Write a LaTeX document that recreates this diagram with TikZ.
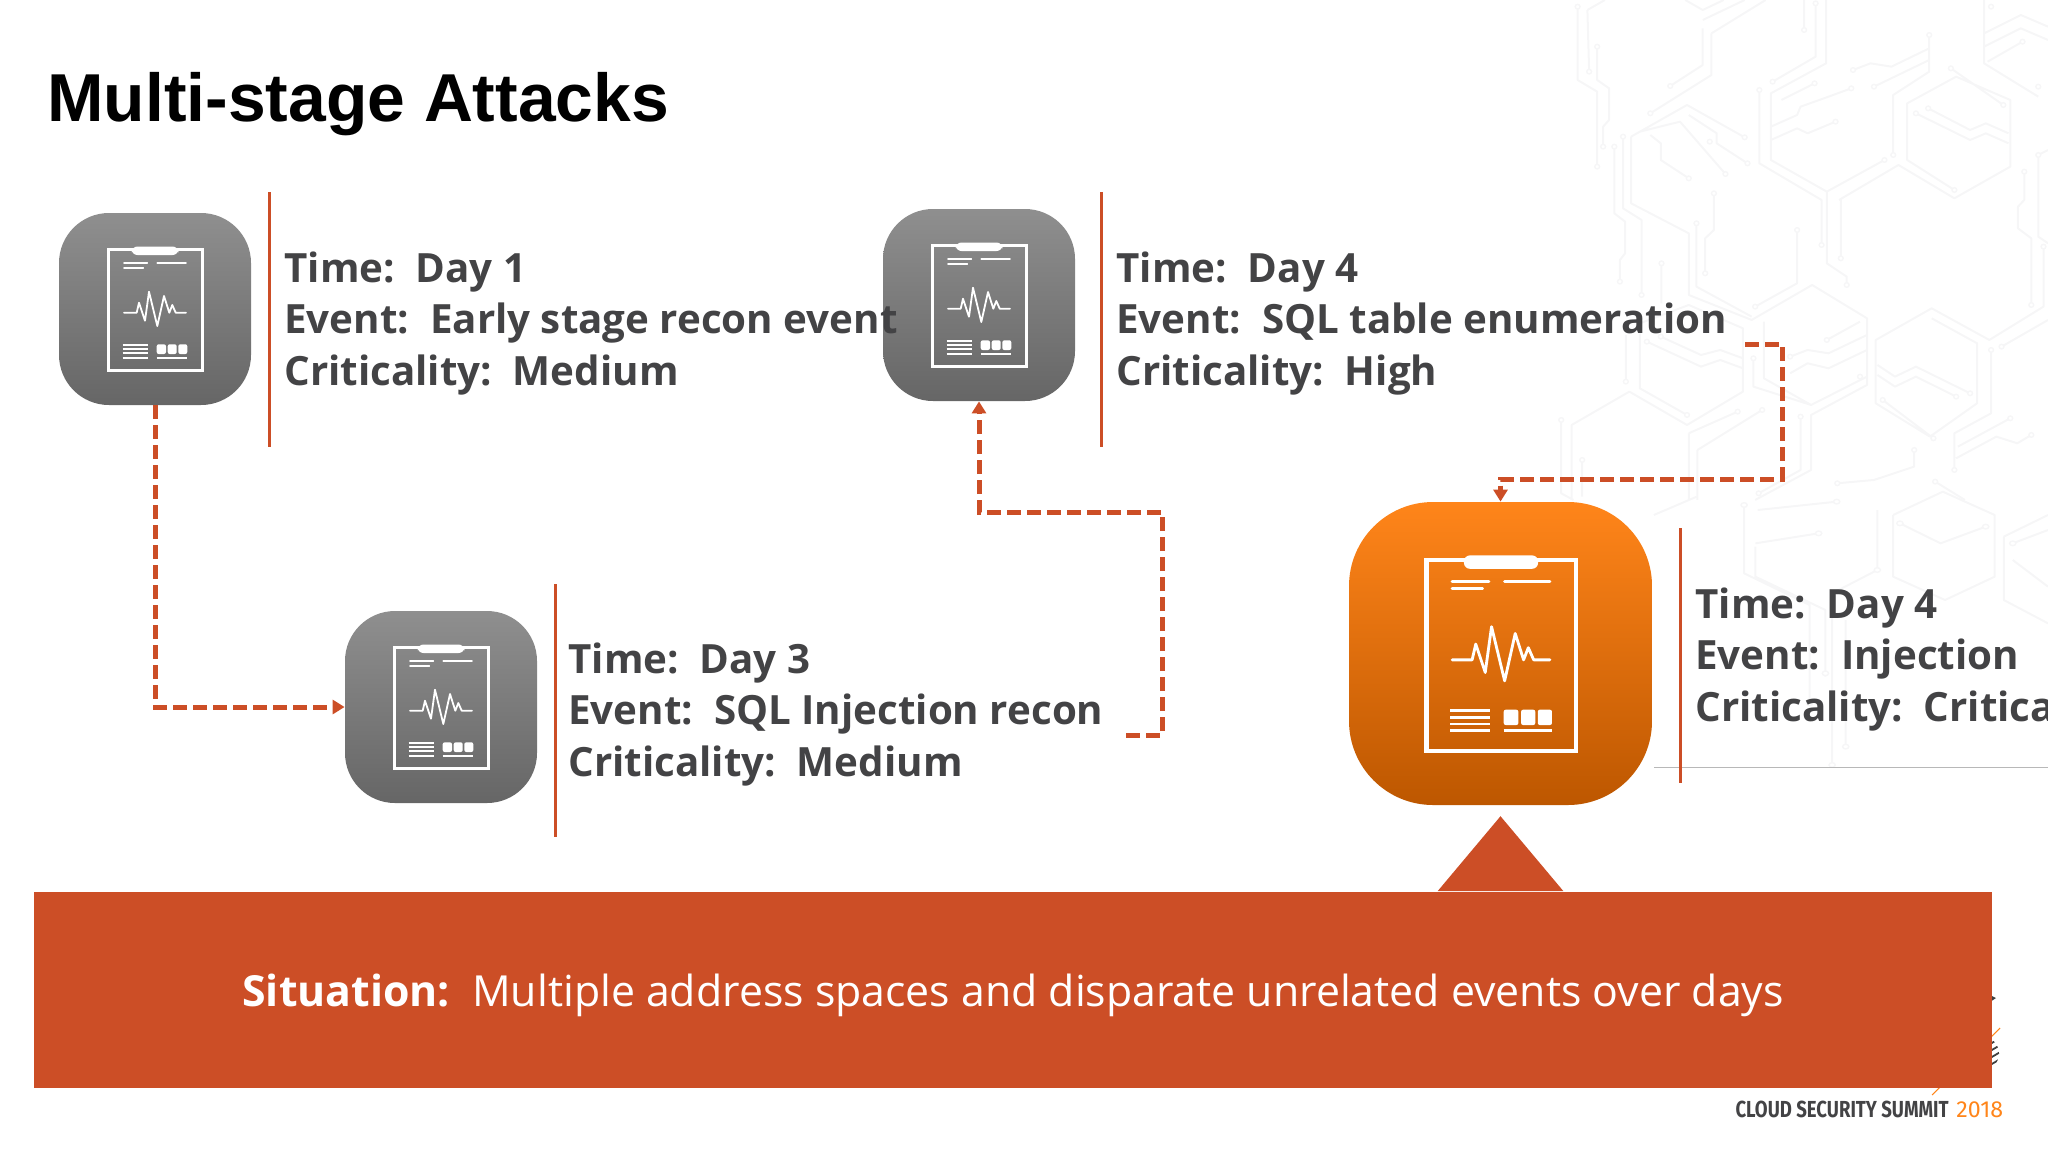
\documentclass[tikz,border=0pt]{standalone}
\usepackage{fontspec}
\usetikzlibrary{arrows.meta,shapes.geometric}
\setmainfont{Open Sans}
\newfontfamily\titlefont{Liberation Sans}
\newfontfamily\logofont{Fira Sans}
\definecolor{rust}{HTML}{CC4E26}
\definecolor{ink}{HTML}{434345}
\definecolor{trace}{HTML}{F6F6F7}
\tikzset{
  x=0.5pt,y=-0.5pt,
  iconbase/.style={rectangle,inner sep=0pt,draw=none},
  grayicon/.style={iconbase,minimum size=96pt,rounded corners=25pt,top color=black!44,bottom color=black!60},
  orangeicon/.style={iconbase,minimum size=151.5pt,rounded corners=42pt,top color=orange1,bottom color=orange2},
  rule/.style={draw=rust,line width=1.5pt},
  link/.style={draw=rust,line width=2.5pt,dash pattern=on 7pt off 3pt,-{Triangle[length=6pt,width=7pt]}},
  info/.style={anchor=west,align=left,inner sep=0pt,text=ink,font=\fontsize{20.15}{25.6}\selectfont\bfseries},
  circuit/.style={draw=trace,line width=1pt,line join=round},
  circuitdot/.style={draw=trace,line width=0.7pt,fill=white},
}
\definecolor{orange1}{HTML}{FF851A}
\definecolor{orange2}{HTML}{BD5700}
\newcommand{\clipdraw}[3]{% cx, cy, scale
  \begin{scope}[shift={(#1,#2)},scale=#3,draw=white,fill=white,line cap=round]
    \pgfmathsetmacro{\lwa}{1.5*#3}\pgfmathsetmacro{\lwb}{0.9*#3}
    \draw[line width=\lwa pt,line cap=butt] (-47,-59.5) rectangle (47.5,61.5);
    \fill[rounded corners=3pt] (-23.5,-62.5) rectangle (23.5,-54);
    \draw[line width=\lwb pt] (-31,-45.7)--(-7.7,-45.7) (-31,-41.3)--(-11.7,-41.3) (2.3,-45.7)--(31,-45.7);
    \draw[line width=\lwb pt,line join=round] (-31,3.7)--(-18.3,3.7)--(-16,-6.3)--(-10,11.7)--(-6,-17.3)--(2.3,17)--(9,-13)--(14.3,3.7)--(17.3,-4)--(20.7,3.7)--(31,3.7);
    \draw[line width=\lwb pt,line cap=butt] (-32.3,36)--(-6.7,36) (-32.3,40.3)--(-6.7,40.3) (-32.3,44.3)--(-6.7,44.3) (-32.3,48.7)--(-6.7,48.7) (1.7,48.7)--(32.3,48.7);
    \fill[rounded corners=1pt] (1.7,35.3) rectangle (11,45);
    \fill[rounded corners=1pt] (12.7,35.3) rectangle (21.7,45);
    \fill[rounded corners=1pt] (23.3,35.3) rectangle (32.3,45);
  \end{scope}}
\begin{document}
\begin{tikzpicture}
\useasboundingbox (0,0) rectangle (2048,1152);
\clip (0,0) rectangle (2048,1152);
% background circuit pattern (upper right)
\begin{scope}[shift={(1500,0)},xscale=0.3495,yscale=0.3333]
 \draw[circuit]
  (222,20)--(222,240)--(278,275)--(278,500)
  (250,30)--(300,0) (250,30)--(255,215)
  (278,140)--(278,240)--(312,265)--(312,360)--(295,380)--(295,440)
  (530,0)--(580,30)--(640,0) (580,60)--(700,0)
  (605,100)--(760,0) (605,100)--(605,225)--(430,340)
  (580,85)--(580,195)--(487,258)
  (375,410)--(535,315)--(700,412)
  (400,395)--(515,365)--(645,522)
  (540,345)--(620,400)--(620,430)--(708,490)
  (430,405)--(460,430)--(460,480)--(540,535)
  (327,440)--(327,640)--(358,665)--(358,760)--(343,780)--(343,845)
  (352,410)--(352,625)--(405,660)--(405,885)
  (375,410)--(375,610)--(540,700)--(540,885)--(720,960)--(893,855)--(1050,955)--(1050,1155)--(890,1245)--(890,1410)--(730,1500)
  (462,790)--(462,910) (562,670)--(562,860)--(720,950)
  (612,580)--(612,690)--(587,715)--(587,820)
  (850,690)--(850,850)--(730,920)
  (870,0)--(870,90) (903,10)--(903,170)--(780,245)
  (933,0)--(933,190)--(775,280)--(775,480)--(935,575)--(935,790)--(992,830)--(992,855)
  (742,270)--(742,490)--(920,600)--(920,735)
  (805,300)--(900,250) (775,380)--(850,345)--(860,320)--(940,290)--(1005,265)
  (775,420)--(850,385)--(880,400)--(960,365)
  (935,575)--(1100,480) (970,600)--(1140,495)--(1300,595)--(1460,500)--(1460,300)--(1305,230)--(1165,310)--(1165,480)--(1300,570)
  (975,600)--(975,775)
  (1125,465)--(1125,285)--(1228,215)--(1228,105)
  (1010,210)--(1060,190)--(1120,200)--(1228,145)
  (1070,260)--(1228,180)
  (1290,205)--(1440,315)
  (1190,340)--(1345,420)--(1390,400)--(1455,430)
  (1225,325)--(1345,390)--(1390,370)--(1455,400)
  (1385,0)--(1385,190)--(1540,290)
  (1385,100)--(1490,45)--(1568,80)
  (1385,140)--(1490,85)--(1568,120)
  (1395,185)--(1495,125)
  (1540,465)--(1568,450) (1540,465)--(1540,710)--(1568,730)
  (1500,515)--(1500,600)--(1482,620)--(1482,685)--(1520,715)--(1520,915)
  (1555,740)--(1555,920)--(1400,1020)--(1235,925)--(1075,1020)--(1075,1210)--(1230,1310)--(1365,1210)--(1365,1030)--(1235,955)
  (1405,1050)--(1405,1240)--(1300,1300)--(1300,1410)
  (1435,1040)--(1568,960)
  (1080,1095)--(1130,1130)--(1190,1100)--(1345,1180)
  (1080,1125)--(1130,1160)--(1190,1130)--(1305,1190)
  (1095,1200)--(1240,1315)
  (1310,1340)--(1460,1255) (1305,1375)--(1420,1310)--(1480,1330)--(1520,1305)
  (400,970)--(540,915)--(695,985)--(695,1175)--(535,1275)--(370,1175)--(205,1275)--(205,1500)
  (400,1000)--(400,1165)--(535,1245)
  (360,1005)--(360,1145)
  (420,1025)--(575,1100)--(630,1080)--(695,1105)
  (460,1010)--(575,1065)--(630,1050)--(695,1075)
  (725,1075)--(725,1160)--(890,1215)--(1050,1130)
  (755,965)--(755,1135)--(890,1215)
  (830,1070)--(880,1050)--(940,1060)--(1050,1005)
  (830,1120)--(880,1090)--(940,1105)--(1050,1050)
  (935,1020)--(1030,965)
  (175,1260)--(175,1480)--(210,1500) (235,1380)--(235,1490)
  (540,1300)--(680,1235) (540,1300)--(540,1500) (565,1350)--(750,1230) (565,1350)--(565,1500)
  (860,1250)--(860,1410)--(740,1480)
  (1185,1350)--(1185,1400)--(1070,1440)--(965,1450)
  (1245,1445)--(1330,1500)
  ;
 \foreach \p in {(222,20),(278,140),(255,215),(295,440),(278,500),(487,258),(430,340),(352,410),(327,440),(343,845),(405,885),(540,535),(645,522),(708,490),(700,412),(600,425),(462,790),(562,670),(612,580),(587,820),(850,690),(730,920),(870,90),(903,10),(780,245),(742,270),(900,250),(1005,265),(960,365),(920,735),(975,775),(992,855),(1100,480),(1125,465),(1228,105),(1010,210),(1070,260),(1290,205),(1440,315),(1190,340),(1225,325),(1300,570),(1540,465),(1500,515),(1520,915),(1555,740),(1405,1050),(1435,1040),(1300,1410),(1345,1180),(1305,1190),(1095,1200),(1240,1315),(1460,1255),(1520,1305),(360,1145),(420,1025),(460,1010),(535,1245),(725,1075),(830,1070),(935,1020),(1030,1130),(175,1260),(235,1380),(680,1235),(750,1230),(860,1250),(740,1480),(1185,1350),(965,1450),(1245,1445),(1405,20),(1495,125),(1540,260)}
   \draw[circuitdot] \p circle (7);
\end{scope}
% background circuit pattern (lower right)
\begin{scope}[shift={(1340,490)},xscale=0.4515,yscale=0.3333]
 \draw[circuit]
  (695,75)--(790,20) (895,45)--(895,250)--(1040,345)--(1040,640)
  (920,170)--(920,260)--(1075,360)--(1075,560)
  (920,160)--(1060,130) (925,60)--(1100,35)
  (1225,75)--(1335,5)--(1450,75)--(1450,260)--(1340,330)--(1225,260)--(1225,75)
  (1240,100)--(1330,160)--(1430,110) (1190,60)--(1190,240)--(1090,310)--(1090,830)
  (1120,390)--(1120,770)
  (1470,140)--(1568,75) (1470,140)--(1470,330)--(1568,400)
  (1490,160)--(1568,120) (1490,210)--(1568,290)
  ;
 \foreach \p in {(895,45),(1060,130),(1100,35),(1190,240),(1040,640),(1075,550),(1120,770),(1090,825),(1430,110),(1240,100),(1490,160)}
   \draw[circuitdot] \p circle (7);
\end{scope}
\draw[draw=black!28,line width=0.5pt] (1654,767)--(2048,767);
% title
\node[anchor=base west,inner sep=0pt,font=\titlefont\fontsize{33.9}{40}\selectfont\bfseries] (title) at (47,121.5) {Multi-stage Attacks};
% icons
\node[grayicon] (e1) at (155,309) {}; \clipdraw{155}{309}{1}
\node[grayicon] (e2) at (979,305) {}; \clipdraw{979}{305}{1}
\node[grayicon] (e3) at (441,707) {}; \clipdraw{441}{707}{1}
\node[orangeicon] (e4) at (1500.5,653.5) {}; \clipdraw{1501}{654}{1.578}
% rules
\draw[rule] (269,192)--(269,447);
\draw[rule] (1101,192)--(1101,447);
\draw[rule] (555,584)--(555,837);
\draw[rule] (1680,528)--(1680,783);
% texts
\node[info] (t1) at (284,323.5) {Time:\ \ Day 1\\Event:\ \ Early stage recon event\\Criticality:\ \ Medium};
\node[info] (t2) at (1116,323.5) {Time:\ \ Day 4\\Event:\ \ SQL table enumeration\\Criticality:\ \ High};
\node[info] (t3) at (568,714.5) {Time:\ \ Day 3\\Event:\ \ SQL Injection recon\\Criticality:\ \ Medium};
\node[info] (t4) at (1695,659.5) {Time:\ \ Day 4\\Event:\ \ Injection\\Criticality:\ \ Critica};
% connectors
\coordinate (c2) at (1126,735);
\coordinate (c3) at (1745,344);
\draw[link] (e1.south) -- (155,707) -- (e3.west);
\draw[link] (c2) -- (1162,735) -- (1162,512) -- (979,512) -- (e2.south);
\draw[link] (c3) -- (1782,344) -- (1782,479) -- (1500.5,479) -- (e4.north);
% logo remains, behind the banner
\fill[black!75] (1990,995)--(1996,998)--(1990,1002)--cycle;
\draw[draw=orange1,line width=0.5pt] (1985,1043)--(2000,1028);
\draw[draw=orange1,line width=0.5pt] (1932,1095)--(1945,1082);
\begin{scope}
 \clip (1982,1053.5) circle (17);
 \foreach \d in {0,7,...,42} \draw[black!75,line width=0.9pt] (1985,1040+\d)--(2002,1030+\d);
\end{scope}
% banner
\node[rectangle,fill=rust,draw=none,inner sep=0pt,minimum width=979pt,minimum height=98pt] (banner) at (1013,990) {};
\node[draw=none,fill=rust,isosceles triangle,isosceles triangle apex angle=80,shape border rotate=90,inner sep=0pt,minimum height=37.5pt,anchor=lower side] (peak) at (banner.north -| e4.south) {};
\node[anchor=base west,inner sep=0pt,text=white,font=\fontsize{21.4}{26}\selectfont] (sit) at (242,1006.5) {\textbf{Situation:}\ \ Multiple address spaces and disparate unrelated events over days};
% logo text
\node[anchor=base east,inner sep=0pt,text=ink,xscale=0.8,font=\logofont\fontsize{11.6}{13}\selectfont\bfseries] (logoa) at (1949,1117) {CLOUD SECURITY SUMMIT};
\node[anchor=base west,inner sep=0pt,text=orange1,font=\logofont\fontsize{11.6}{13}\selectfont] (logob) at (1956,1117) {2018};
\end{tikzpicture}
\end{document}
